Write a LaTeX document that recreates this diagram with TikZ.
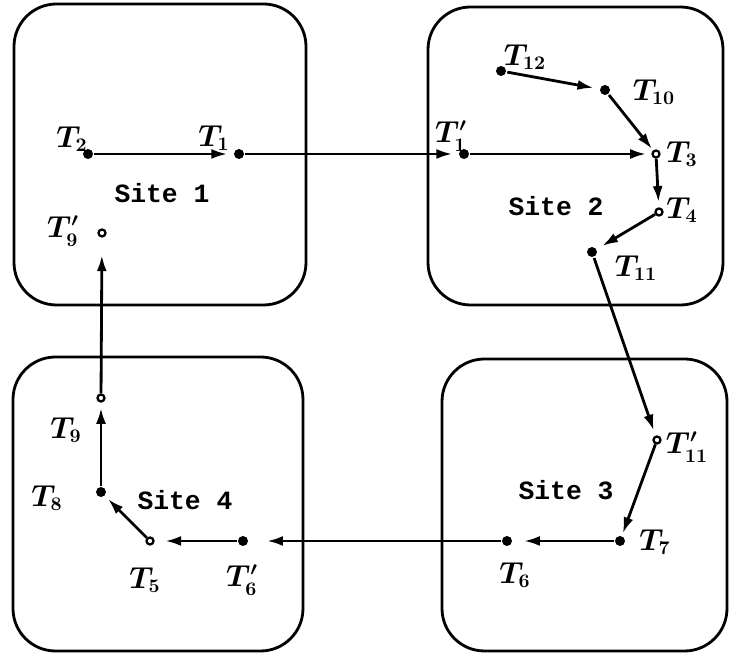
\documentclass[tikz,border=0pt]{standalone}
\usepackage{fontspec}
\usepackage{tikz}
\usetikzlibrary{arrows.meta, positioning}
\newfontfamily\sitefont{Liberation Mono}

\begin{document}
\begin{tikzpicture}[line width=1.6pt,
    every node/.style={font=\fontsize{16}{19}\selectfont\boldmath},
    sitebox/.style={rounded corners=0.85cm},
    fulldot/.style={circle, fill, inner sep=0pt, minimum size=0.2cm},
    opendot/.style={circle, draw, fill=white, line width=1.3pt, inner sep=0pt, minimum size=0.14cm},
    sitename/.style={font=\fontsize{15}{18}\selectfont\sitefont\bfseries},
    go/.style={-{Latex[length=0.32cm,width=0.2cm]}, shorten >=3pt}]
  \useasboundingbox (0,0) rectangle (14.58,13.06);

  % the four sites
  \draw[sitebox] (0.28,6.96) rectangle (6.12,12.98);
  \draw[sitebox] (8.56,6.96) rectangle (14.46,12.92);
  \draw[sitebox] (8.84,0.04) rectangle (14.54,5.88);
  \draw[sitebox] (0.26,0.04) rectangle (6.06,5.92);
  \node[sitename] (s1) at (3.24,9.20) {Site 1};
  \node[sitename] (s2) at (11.12,8.94) {Site 2};
  \node[sitename] (s3) at (11.32,3.26) {Site 3};
  \node[sitename] (s4) at (3.70,3.06) {Site 4};

  % points
  \node[fulldot] (t2) at (1.76,9.98) {};
  \node[fulldot] (t1) at (4.78,9.98) {};
  \node[fulldot] (t1p) at (9.28,9.98) {};
  \node[opendot] (t3) at (13.12,9.98) {};
  \node[fulldot] (t12) at (10.02,11.64) {};
  \node[fulldot] (t10) at (12.10,11.26) {};
  \node[opendot] (t4) at (13.18,8.82) {};
  \node[fulldot] (t11) at (11.84,8.02) {};
  \node[opendot] (t11p) at (13.14,4.26) {};
  \node[fulldot] (t7) at (12.40,2.24) {};
  \node[fulldot] (t6) at (10.14,2.24) {};
  \node[fulldot] (t6p) at (4.86,2.24) {};
  \node[opendot] (t5) at (3.00,2.24) {};
  \node[fulldot] (t8) at (2.02,3.22) {};
  \node[opendot] (t9) at (2.02,5.10) {};
  \node[opendot] (t9p) at (2.04,8.40) {};

  % labels
  \node (l2) at (1.44,10.28) {$T_2$};
  \node (l1) at (4.28,10.30) {$T_1$};
  \node (l1p) at (9.02,10.34) {$T_1'$};
  \node (l3) at (13.64,9.98) {$T_3$};
  \node (l12) at (10.50,11.92) {$T_{12}$};
  \node (l10) at (13.08,11.22) {$T_{10}$};
  \node (l4) at (13.64,8.86) {$T_4$};
  \node (l11) at (12.72,7.70) {$T_{11}$};
  \node (l11p) at (13.74,4.12) {$T_{11}'$};
  \node (l7) at (13.10,2.22) {$T_7$};
  \node (l6) at (10.30,1.56) {$T_6$};
  \node (l6p) at (4.84,1.46) {$T_6'$};
  \node (l5) at (2.90,1.46) {$T_5$};
  \node (l8) at (0.94,3.10) {$T_8$};
  \node (l9) at (1.32,4.46) {$T_9$};
  \node (l9p) at (1.26,8.44) {$T_9'$};

  % moves
  \draw[go] (t2) -- (t1);
  \draw[go] (t1) -- (t1p);
  \draw[go] (t1p) -- (t3);
  \draw[go] (t12) -- (t10);
  \draw[go, shorten >=1pt] (t10) -- (t3);
  \draw[go] (t3) -- (t4);
  \draw[go] (t4) -- (t11);
  \draw[go] (t11) -- (t11p);
  \draw[go, shorten >=1pt] (t11p) -- (t7);
  \draw[go, shorten >=6pt] (t7) -- (t6);
  \draw[go, shorten >=10pt] (t6) -- (t6p);
  \draw[go, shorten >=6pt] (t6p) -- (t5);
  \draw[go, shorten >=2pt] (t5) -- (t8);
  \draw[go] (t8) -- (t9);
  \draw[go, shorten >=10pt] (t9) -- (t9p);
\end{tikzpicture}
\end{document}
